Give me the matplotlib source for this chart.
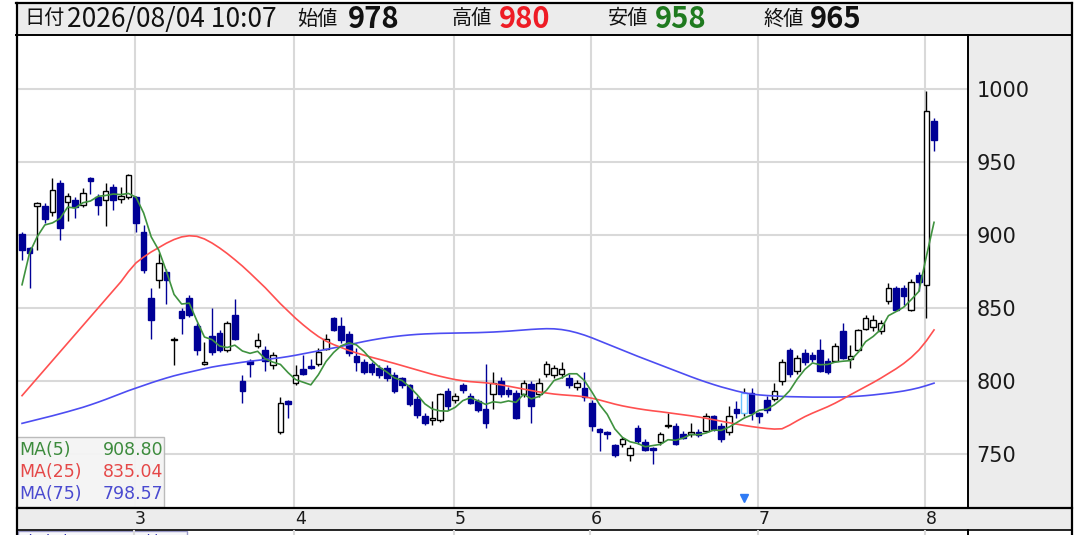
import matplotlib
matplotlib.use('Agg')
import matplotlib.pyplot as plt
from matplotlib.patches import Rectangle
from matplotlib.lines import Line2D
import numpy as np
import pandas as pd

# ---------------- data ----------------
opens = [901, 891, 920, 920, 916, 936, 923, 924, 921, 939,
         926, 924, 933, 925, 926, 926, 902, 857, 869, 875,
         828, 848, 857, 838, 812, 831, 833, 821, 845, 800,
         814, 824, 821, 811, 765, 786, 799, 808, 810, 812,
         822, 843, 838, 832, 817, 813, 812, 809, 809, 804,
         802, 797, 788, 776, 773, 773, 793, 787, 797, 790,
         786, 781, 791, 800, 794, 792, 791, 798, 791, 805,
         804, 805, 802, 796, 795, 785, 767, 765, 756, 757,
         749, 768, 758, 754, 758, 769, 769, 764, 764, 765,
         766, 776, 769, 765, 781, 778, 792, 778, 787, 788,
         800, 821, 807, 819, 818, 821, 814, 814, 834, 815,
         821, 836, 837, 834, 855, 864, 864, 849, 873, 866,
         978]
highs = [902, 892, 923, 922, 939, 938, 929, 926, 932, 940,
         928, 936, 935, 933, 942, 927, 907, 864, 888, 877,
         830, 850, 859, 840, 827, 850, 835, 841, 856, 804,
         815, 833, 824, 820, 789, 787, 811, 818, 815, 823,
         832, 844, 844, 834, 823, 815, 813, 811, 811, 806,
         803, 798, 790, 778, 786, 792, 795, 792, 799, 792,
         788, 812, 806, 803, 796, 794, 801, 800, 802, 814,
         811, 813, 805, 801, 806, 787, 768, 766, 757, 762,
         756, 770, 760, 755, 765, 778, 771, 766, 771, 767,
         778, 777, 771, 783, 786, 795, 795, 779, 790, 799,
         815, 823, 818, 822, 820, 829, 816, 826, 840, 825,
         836, 845, 845, 842, 867, 865, 866, 870, 875, 999,
         980]
lows = [883, 864, 890, 908, 913, 897, 910, 912, 919, 928,
        914, 906, 917, 922, 925, 902, 874, 829, 864, 853,
        811, 832, 844, 818, 811, 818, 820, 820, 828, 785,
        803, 823, 807, 808, 764, 775, 797, 804, 808, 810,
        821, 834, 826, 817, 807, 805, 804, 802, 800, 792,
        795, 783, 775, 770, 770, 772, 780, 785, 792, 784,
        779, 768, 781, 789, 789, 774, 789, 771, 789, 803,
        802, 802, 795, 794, 786, 766, 752, 760, 748, 755,
        745, 757, 752, 743, 756, 768, 756, 760, 762, 762,
        765, 766, 758, 763, 775, 776, 773, 771, 778, 786,
        797, 803, 805, 811, 813, 806, 805, 813, 815, 809,
        820, 835, 834, 832, 853, 848, 852, 848, 862, 843,
        958]
closes = [890, 888, 922, 911, 931, 905, 927, 919, 929, 937,
          921, 930, 924, 927, 941, 908, 876, 842, 881, 869,
          829, 843, 845, 821, 813, 820, 821, 840, 829, 793,
          812, 828, 814, 818, 785, 784, 804, 805, 809, 820,
          829, 835, 828, 819, 813, 806, 806, 804, 802, 793,
          797, 784, 777, 771, 775, 791, 783, 790, 794, 785,
          780, 771, 799, 791, 791, 775, 799, 783, 799, 812,
          809, 808, 797, 799, 789, 769, 765, 764, 749, 760,
          754, 759, 753, 753, 764, 770, 757, 761, 765, 763,
          776, 767, 760, 776, 778, 792, 778, 776, 780, 793,
          813, 805, 816, 813, 815, 807, 806, 824, 816, 817,
          835, 843, 842, 840, 864, 849, 858, 868, 868, 985,
          965]
# closes of the four sessions before the first visible one (for MA5)
prior_closes = [778, 867, 871, 924]

ma25 = [790, 796, 802, 808, 814, 820, 826, 832, 838, 844,
        850, 856, 862, 868, 875, 881, 885, 888.5, 891.5, 894.5,
        897, 898.8, 899.6, 899.2, 897.4, 894.6, 891.2, 887.4, 883.2, 878.8,
        874, 869, 864, 858.5, 853, 848, 843, 838.5, 834.3, 830.5,
        827.4, 825, 823, 821, 819.3, 817.8, 816.3, 814.9, 813.5, 812.1,
        810.6, 809.1, 807.6, 806.1, 804.6, 803.3, 802.1, 801, 800.2, 799.6,
        799.2, 798.8, 798.2, 797.4, 796.5, 795.5, 794.5, 793.5, 792.6, 791.8,
        791.1, 790.6, 790.2, 789.8, 789.2, 788.2, 787, 785.6, 784.2, 783,
        782, 781.1, 780.3, 779.6, 779, 778.3, 777.6, 776.9, 776.2, 775.4,
        774.5, 773.5, 772.5, 771.5, 770.5, 769.6, 768.8, 768.1, 767.5, 767.1,
        767.3, 769.8, 772.8, 775.6, 778, 780.2, 782.4, 784.9, 787.7, 790.6,
        793.4, 796.2, 799, 802, 805.2, 808.4, 812, 816.2, 821.2, 827.6,
        835.04]
ma75 = [771, 772.3, 773.6, 774.9, 776.2, 777.6, 779, 780.5, 782, 783.7,
        785.5, 787.4, 789.4, 791.4, 793.4, 795.2, 797, 798.8, 800.5, 802.1,
        803.6, 804.9, 806.1, 807.3, 808.5, 809.6, 810.5, 811.3, 812.1, 812.9,
        813.6, 814.2, 814.8, 815.4, 816, 816.8, 817.7, 818.7, 819.7, 820.7,
        821.7, 822.7, 823.8, 824.9, 826, 827.1, 828.1, 829, 829.8, 830.5,
        831.1, 831.6, 832, 832.3, 832.5, 832.7, 832.8, 832.9, 833, 833.1,
        833.2, 833.4, 833.6, 833.9, 834.2, 834.6, 835, 835.4, 835.7, 835.9,
        835.8, 835.3, 834.4, 833.1, 831.5, 829.6, 827.5, 825.4, 823.3, 821.2,
        819.1, 817, 815, 813, 811, 809, 807, 805, 803, 801.1,
        799.3, 797.6, 796, 794.6, 793.2, 792, 791.1, 790.5, 790.1, 789.8,
        789.5, 789.3, 789.2, 789.1, 789, 789, 789, 789, 789.1, 789.3,
        789.6, 790, 790.5, 791.1, 791.7, 792.4, 793.2, 794.2, 795.4, 796.9,
        798.57]

month_labels = ['3', '4', '5', '6', '7', '8']
month_start = [15, 36, 57, 75, 97, 119]      # index of first session of each month
price_ticks = [750, 800, 850, 900, 950, 1000]
event_idx = [95]                              # ▼ marker / highlighted candle

hdr_date = '2026/08/04 10:07'
hdr_open, hdr_high, hdr_low, hdr_close = 978, 980, 958, 965

# ---------------- figure ----------------
W, H = 1083, 535
fig = plt.figure(figsize=(W / 100, H / 100), dpi=100)
fig.patch.set_facecolor('white')


def fx(px):
    return px / W


def fy(py):
    return 1 - py / H


CJK = ['Noto Sans CJK JP', 'DejaVu Sans']
GREY = '#ececec'
GRID = '#d9d9d9'
NAVY = '#000096'

# background panels (below axes)
fig.add_artist(Rectangle((fx(16), fy(35)), fx(1072) - fx(16), (35 - 3) / H,
                         transform=fig.transFigure, fc=GREY, ec='none', zorder=-1))
fig.add_artist(Rectangle((fx(968), fy(508)), fx(1072) - fx(968), (508 - 35) / H,
                         transform=fig.transFigure, fc=GREY, ec='none', zorder=-1))
fig.add_artist(Rectangle((fx(17), fy(530)), fx(1072) - fx(17), (530 - 508) / H,
                         transform=fig.transFigure, fc=GREY, ec='none', zorder=-1))

ax = fig.add_axes([fx(18), fy(508), (968 - 18) / W, (508 - 36) / H])
ax.set_facecolor('white')
for s in ax.spines.values():
    s.set_visible(False)

x = np.arange(len(closes))
o = np.array(opens, float)
c = np.array(closes, float)
h = np.array(highs, float)
l = np.array(lows, float)
up = c >= o

# grid
for p in price_ticks:
    ax.axhline(p, color=GRID, lw=1.5, zorder=1)
for m in month_start:
    ax.axvline(m - 0.2, color=GRID, lw=1.5, zorder=1)

# candles
wick_cols = ['black' if u else NAVY for u in up]
ax.vlines(x, l, h, colors=wick_cols, lw=1.0, zorder=2)
body_bottom = np.minimum(o, c)
body_h = np.maximum(np.abs(c - o), 0.7)
face = ['white' if u else NAVY for u in up]
edge = ['black' if u else NAVY for u in up]
for e in event_idx:
    edge[e] = '#6cc4ff'
ax.bar(x, body_h, width=0.74, bottom=body_bottom, color=face, edgecolor=edge,
       linewidth=1.0, zorder=3)

# moving averages
ma5 = pd.Series(prior_closes + closes, dtype=float).rolling(5).mean().to_numpy()[len(prior_closes):]
ax.plot(x, ma75, color='#4d4df2', lw=1.2, zorder=4)
ax.plot(x, ma25, color='#ff5050', lw=1.2, zorder=4)
ax.plot(x, ma5, color='#3f923f', lw=1.2, zorder=4)

# event marker
ax.plot(event_idx, [0.021] * len(event_idx), marker='v', ms=6, color='#2f7bf5',
        ls='none', transform=ax.get_xaxis_transform(), zorder=5, clip_on=False)

ax.set_xlim(-0.53, 124.47)
ax.set_ylim(713.0, 1036.5)
ax.set_xticks([])
ax.yaxis.tick_right()
ax.set_yticks(price_ticks)
ax.set_yticklabels([str(p) for p in price_ticks])
ax.tick_params(axis='y', length=0, pad=6, labelsize=15, labelcolor='#1a1a1a')

# month labels
for m, lab in zip(month_start, month_labels):
    ax.text(m + 0.6, -(519 - 508) / 472, lab, transform=ax.get_xaxis_transform(),
            ha='center', va='center', fontsize=12.5, color='#1a1a1a', clip_on=False)

# MA legend box
fig.add_artist(Rectangle((fx(17), fy(507)), fx(164) - fx(17), (507 - 437) / H,
                         transform=fig.transFigure, fc='#f4f4f4', ec='#b8b8b8',
                         lw=1.0, zorder=6, alpha=0.95))
leg = [('MA(5)', ma5[-1], '#3d8b3d', 450),
       ('MA(25)', ma25[-1], '#e54848', 472),
       ('MA(75)', ma75[-1], '#4a4ad0', 494)]
for name, val, col, py in leg:
    fig.text(fx(19), fy(py), name, color=col, fontsize=12.5, ha='left', va='center', zorder=7)
    fig.text(fx(163), fy(py), f'{val:.2f}', color=col, fontsize=12.5, ha='right', va='center', zorder=7)

# partially visible volume panel legend (cut by the bottom edge, as in the source)
fig.add_artist(Rectangle((fx(18), fy(552)), fx(187) - fx(18), (552 - 530.5) / H,
                         transform=fig.transFigure, fc='#f7f7fb', ec='#9a9ac8', lw=1.0, zorder=6))
fig.text(fx(22), fy(543), '出来高  236,800株', color='#3030b0', fontsize=12.5,
         family=CJK, ha='left', va='center', zorder=7)

# header texts
hy = fy(19)
fig.text(fx(24), hy, '日付', family=CJK, fontsize=14.5, ha='left', va='center', color='#111')
fig.text(fx(67), hy, hdr_date, family=CJK, fontsize=19, ha='left', va='center', color='#111')
items = [('始値', hdr_open, '#111111', 297, 348),
         ('高値', hdr_high, '#ee1c25', 452, 499),
         ('安値', hdr_low, '#1f7a1f', 608, 655),
         ('終値', hdr_close, '#111111', 763, 810)]
for lab, val, col, lx, vx in items:
    fig.text(fx(lx), hy, lab, family=CJK, fontsize=14.5, ha='left', va='center', color='#111')
    fig.text(fx(vx), hy, str(val), family=CJK, fontsize=21, fontweight='bold',
             ha='left', va='center', color=col)


# frame lines
def hline(py, x0, x1, lw=1.5, col='black'):
    fig.add_artist(Line2D([fx(x0), fx(x1)], [fy(py), fy(py)], transform=fig.transFigure,
                          color=col, lw=lw, zorder=10))


def vline(px, y0, y1, lw=1.5, col='black'):
    fig.add_artist(Line2D([fx(px), fx(px)], [fy(y0), fy(y1)], transform=fig.transFigure,
                          color=col, lw=lw, zorder=10))


hline(3, 16, 1072, lw=1.6)
hline(35, 16, 1072, lw=1.4)
hline(508, 17, 1072, lw=1.6)
hline(530, 17, 1072, lw=1.2)
vline(17, 3, 535, lw=1.6)
vline(1072, 3, 535, lw=1.6)
vline(968, 35, 508, lw=1.4)
vline(968, 530, 535, lw=1.4)
for m in month_start:
    px = 22 + (m - 0.2) * 7.6
    vline(px, 530.5, 535, lw=1.5, col=GRID)

fig.savefig('out.png', dpi=100)
